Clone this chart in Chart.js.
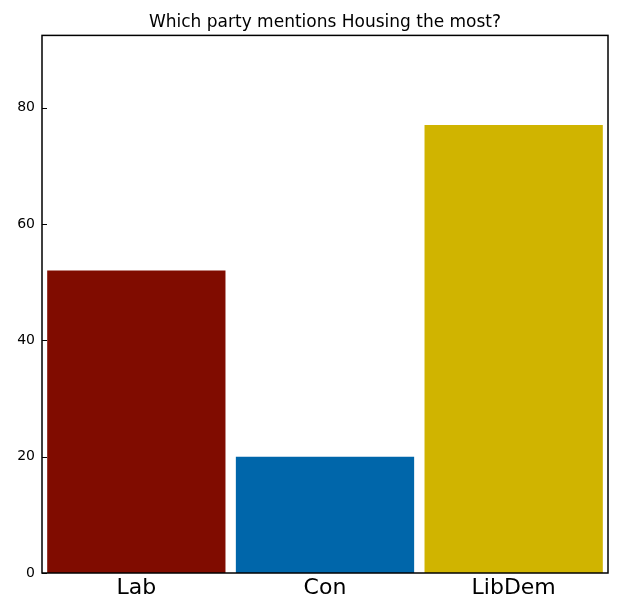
<!DOCTYPE html>
<html>
<head>
<meta charset="utf-8">
<script src="https://cdn.jsdelivr.net/npm/chart.js@4.4.1/dist/chart.umd.min.js"></script>
<style>
html,body{margin:0;padding:0;background:#fff;}
#wrap{width:640px;height:608px;}
</style>
</head>
<body>
<div id="wrap"><canvas id="c" width="640" height="608"></canvas></div>
<script>
const categories = ["Lab", "Con", "LibDem"];
const mentions = [52, 20, 77];
const barColors = ["#800c00", "#0066aa", "#d0b400"];
const yTicks = [0, 20, 40, 60, 80];
const yMax = 92.4;

const frame = {
  id: 'frame',
  afterDatasetsDraw(chart) {
    const {ctx, chartArea: a, scales} = chart;
    ctx.save();
    ctx.strokeStyle = '#000';
    ctx.lineWidth = 1;
    yTicks.forEach(v => {
      const y = Math.round(scales.y.getPixelForValue(v)) + 0.5;
      ctx.beginPath();
      ctx.moveTo(a.left, y); ctx.lineTo(a.left + 5, y);
      ctx.stroke();
    });
    ctx.lineWidth = 1.5;
    ctx.strokeRect(a.left, a.top, a.right - a.left, a.bottom - a.top);
    ctx.restore();
  }
};

new Chart(document.getElementById('c'), {
  type: 'bar',
  data: {
    labels: categories,
    datasets: [{
      data: mentions,
      backgroundColor: barColors,
      borderWidth: 0,
      categoryPercentage: 1.0,
      barPercentage: 0.945
    }]
  },
  options: {
    responsive: false,
    animation: false,
    layout: {padding: {left: 0, right: 32, top: 0, bottom: 0}},
    plugins: {
      legend: {display: false},
      tooltip: {enabled: false},
      title: {
        display: true,
        fullSize: false,
        text: 'Which party mentions Housing the most?',
        color: '#000',
        font: {family: 'DejaVu Sans', size: 17, weight: 'normal'},
        padding: {top: 12, bottom: 3}
      }
    },
    scales: {
      x: {
        grid: {display: false, drawTicks: false},
        border: {display: false},
        ticks: {color: '#000', padding: 2, font: {family: 'DejaVu Sans', size: 22}},
        afterFit(s) { s.height = 35; }
      },
      y: {
        min: 0, max: yMax,
        grid: {display: false, drawTicks: false},
        border: {display: false},
        afterBuildTicks(s) { s.ticks = yTicks.map(v => ({value: v})); },
        ticks: {color: '#000', padding: 7, font: {family: 'DejaVu Sans', size: 14}},
        afterFit(s) { s.width = 42; }
      }
    }
  },
  plugins: [frame]
});
</script>
</body>
</html>
